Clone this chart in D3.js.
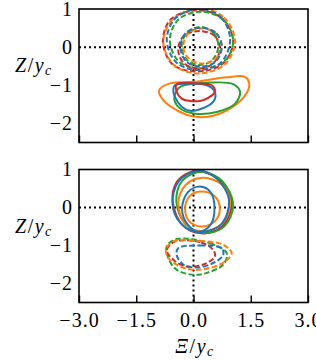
<!DOCTYPE html>
<html>
<head>
<meta charset="utf-8">
<script src="https://cdn.jsdelivr.net/npm/d3@7"></script>
<style>
  body { margin: 0; background: #fff; }
  text { font-family: "Liberation Serif", "DejaVu Serif", serif; }
</style>
</head>
<body>
<svg id="chart" width="316" height="361"></svg>
<script>
// tick values
const xTicks = [-3, -1.5, 0, 1.5, 3];
const yTicks = [1, 0, -1, -2];

// top panel, dashed rings (outer / inner)
const p1RedOut = [[0.1,0.97],[0.75,0.75],[1.04,0.15],[0.78,-0.42],[0.12,-0.64],[-0.55,-0.45],[-0.8,0.15],[-0.6,0.72]];
const p1GreenOut = [[0.2,0.93],[0.8,0.7],[1.04,0.15],[0.8,-0.38],[0.2,-0.56],[-0.38,-0.38],[-0.62,0.18],[-0.4,0.72]];
const p1OrangeOut = [[0.15,1.02],[0.8,0.78],[1.09,0.15],[0.82,-0.45],[0.15,-0.69],[-0.5,-0.48],[-0.79,0.12],[-0.55,0.72]];
const p1BlueOut = [[0.15,1.0],[0.72,0.78],[0.96,0.2],[0.72,-0.4],[0.12,-0.6],[-0.45,-0.4],[-0.7,0.18],[-0.48,0.75]];
const p1RedIn = [[0.15,0.42],[0.55,0.3],[0.69,-0.05],[0.52,-0.42],[0.15,-0.56],[-0.25,-0.42],[-0.4,-0.07],[-0.25,0.3]];
const p1GreenIn = [[0.17,0.53],[0.52,0.38],[0.65,0.02],[0.5,-0.33],[0.17,-0.47],[-0.18,-0.33],[-0.31,0.03],[-0.17,0.38]];
const p1OrangeIn = [[0.22,0.49],[0.6,0.35],[0.74,0.02],[0.58,-0.3],[0.22,-0.43],[-0.12,-0.3],[-0.27,0.02],[-0.13,0.36]];
const p1BlueIn = [[0.2,0.51],[0.6,0.36],[0.74,0.0],[0.58,-0.38],[0.2,-0.51],[-0.2,-0.37],[-0.34,0.0],[-0.2,0.37]];

// top panel, solid lower lobes
const p1OrangeLow = [[-0.62,-0.95],[0,-0.91],[0.87,-0.79],[1.35,-0.78],[1.46,-0.95],[1.39,-1.21],[1.04,-1.56],[0.43,-1.82],[0,-1.82],[-0.35,-1.7],[-0.79,-1.39],[-0.9,-1.13]];
const p1GreenLow = [[-0.35,-1.04],[0.43,-0.93],[1.04,-0.97],[1.22,-1.17],[1.09,-1.48],[0.61,-1.7],[0,-1.74],[-0.35,-1.61],[-0.49,-1.43],[-0.49,-1.26]];
const p1BlueLow = [[-0.49,-1.0],[-0.09,-0.95],[0.35,-1.0],[0.56,-1.17],[0.52,-1.43],[0.17,-1.63],[-0.09,-1.67],[-0.31,-1.56],[-0.49,-1.3],[-0.53,-1.11]];
const p1RedLow = [[-0.44,-0.97],[0.09,-0.95],[0.48,-1.0],[0.56,-1.17],[0.35,-1.35],[0.17,-1.41],[-0.09,-1.41],[-0.31,-1.35],[-0.44,-1.17]];

// bottom panel, solid rings
const p2RedOut = [[0.1,0.96],[0.7,0.72],[1.0,0.1],[0.75,-0.5],[0.2,-0.68],[-0.3,-0.45],[-0.55,0.2],[-0.45,0.65],[-0.2,0.88]];
const p2GreenOut = [[0.2,0.94],[0.75,0.7],[1.04,0.05],[0.8,-0.5],[0.3,-0.68],[-0.2,-0.45],[-0.45,0.15],[-0.3,0.7]];
const p2OrangeOut = [[0.26,0.78],[0.75,0.6],[0.96,0.12],[0.75,-0.42],[0.26,-0.62],[-0.2,-0.45],[-0.4,0.12],[-0.2,0.6]];
const p2BlueOut = [[0.17,0.97],[0.62,0.75],[0.93,0.2],[0.72,-0.45],[0.1,-0.65],[-0.35,-0.4],[-0.55,0.1],[-0.38,0.7]];
const p2OrangeIn = [[0.2,0.42],[0.55,0.3],[0.69,-0.03],[0.55,-0.37],[0.2,-0.5],[-0.12,-0.35],[-0.22,-0.03],[-0.1,0.3]];
const p2BlueIn = [[0.17,0.55],[0.45,0.4],[0.55,0.0],[0.45,-0.45],[0.15,-0.64],[-0.15,-0.45],[-0.3,-0.03],[-0.15,0.4]];

// bottom panel, dashed lower lobes
const p2RedLow = [[-0.5,-0.9],[0.2,-0.92],[0.52,-1.12],[0.56,-1.29],[0.26,-1.5],[-0.18,-1.55],[-0.5,-1.4],[-0.7,-1.13]];
const p2GreenLow = [[-0.44,-0.83],[0.43,-0.94],[0.87,-1.2],[0.78,-1.5],[0.35,-1.72],[0,-1.77],[-0.44,-1.64],[-0.66,-1.33],[-0.7,-1.02]];
const p2OrangeLow = [[-0.53,-0.89],[0.17,-0.88],[0.78,-0.98],[1.0,-1.2],[0.83,-1.42],[0.43,-1.59],[0,-1.64],[-0.35,-1.55],[-0.66,-1.33],[-0.72,-1.1]];
const p2BlueLow = [[-0.4,-1.07],[0.17,-1.0],[0.74,-1.07],[0.78,-1.25],[0.52,-1.46],[0.09,-1.58],[-0.27,-1.5],[-0.44,-1.25]];

const C = { blue: "#1f77b4", orange: "#ff7f0e", green: "#2ca02c", red: "#d62728" };

const panels = [
  { top: 9, bottom: 142.5, curves: [
      [p1RedOut, C.red, true], [p1GreenOut, C.green, true], [p1OrangeOut, C.orange, true], [p1BlueOut, C.blue, true],
      [p1RedIn, C.red, true], [p1GreenIn, C.green, true], [p1OrangeIn, C.orange, true], [p1BlueIn, C.blue, true],
      [p1OrangeLow, C.orange, false], [p1GreenLow, C.green, false], [p1BlueLow, C.blue, false], [p1RedLow, C.red, false]
    ], labels: false },
  { top: 169.5, bottom: 302.5, curves: [
      [p2RedOut, C.red, false], [p2GreenOut, C.green, false], [p2OrangeOut, C.orange, false], [p2BlueOut, C.blue, false],
      [p2OrangeIn, C.orange, false], [p2BlueIn, C.blue, false],
      [p2RedLow, C.red, true], [p2GreenLow, C.green, true], [p2OrangeLow, C.orange, true], [p2BlueLow, C.blue, true]
    ], labels: true }
];

const svg = d3.select("#chart");
const x = d3.scaleLinear().domain([-3, 3]).range([79, 308]);

panels.forEach(function(p, i) {
  const y = d3.scaleLinear().domain([-2.5, 1]).range([p.bottom, p.top]);
  const g = svg.append("g");

  g.append("clipPath").attr("id", "clip" + i)
    .append("rect").attr("x", x(-3)).attr("y", p.top)
    .attr("width", x(3) - x(-3)).attr("height", p.bottom - p.top);

  const plot = g.append("g").attr("clip-path", "url(#clip" + i + ")");

  // zero lines
  plot.append("line").attr("x1", x(-3)).attr("x2", x(3)).attr("y1", y(0)).attr("y2", y(0))
    .attr("stroke", "#000").attr("stroke-width", 2).attr("stroke-dasharray", "2,3");
  plot.append("line").attr("x1", x(0)).attr("x2", x(0)).attr("y1", p.top).attr("y2", p.bottom)
    .attr("stroke", "#000").attr("stroke-width", 2).attr("stroke-dasharray", "2,3");

  const line = d3.line()
    .x(function(d){ return x(d[0]) })
    .y(function(d){ return y(d[1]) })
    .curve(d3.curveCatmullRomClosed.alpha(0.5));

  plot.selectAll("path.c")
    .data(p.curves)
    .enter()
    .append("path")
      .attr("class", "c")
      .attr("d", function(d){ return line(d[0]) })
      .attr("fill", "none")
      .attr("stroke", function(d){ return d[1] })
      .attr("stroke-width", 2)
      .attr("stroke-dasharray", function(d){ return d[2] ? "5.5,2.5" : null });

  // y axis
  const ya = g.append("g").attr("transform", "translate(" + x(-3) + ",0)")
    .call(d3.axisLeft(y).tickValues(yTicks).tickSize(0).tickPadding(6).tickFormat(d3.format("d")));
  ya.select(".domain").remove();
  ya.selectAll("text").attr("font-size", 20).attr("fill", "#000").attr("font-family", "Liberation Serif")
    .attr("letter-spacing", 1);

  // x axis (ticks inward)
  const xa = g.append("g").attr("transform", "translate(0," + p.bottom + ")")
    .call(d3.axisBottom(x).tickValues(xTicks).tickSizeInner(-7).tickSizeOuter(0).tickPadding(10).tickFormat(d3.format(".1f")));
  xa.select(".domain").remove();
  xa.selectAll("line").attr("stroke", "#000").attr("stroke-width", 1.4);
  xa.selectAll("text").attr("font-size", 20).attr("fill", "#000").attr("font-family", "Liberation Serif")
    .attr("letter-spacing", 1);
  if (!p.labels) xa.selectAll("text").remove();

  // frame
  g.append("rect").attr("x", x(-3)).attr("y", p.top)
    .attr("width", x(3) - x(-3)).attr("height", p.bottom - p.top)
    .attr("fill", "none").attr("stroke", "#000").attr("stroke-width", 1.6);

  // y label
  const yl = g.append("text").attr("x", 15).attr("y", p.top + 63).attr("font-size", 20).attr("letter-spacing", 1.5);
  yl.append("tspan").attr("font-style", "italic").text("Z");
  yl.append("tspan").text("/");
  yl.append("tspan").attr("font-style", "italic").text("y");
  yl.append("tspan").attr("font-style", "italic").attr("font-size", 14).attr("dy", 3).text("c");
});

// x label
const xl = svg.append("text").attr("x", 195).attr("y", 353).attr("font-size", 20).attr("text-anchor", "middle").attr("letter-spacing", 1.5);
xl.append("tspan").attr("font-style", "italic").text("Ξ");
xl.append("tspan").text("/");
xl.append("tspan").attr("font-style", "italic").text("y");
xl.append("tspan").attr("font-style", "italic").attr("font-size", 14).attr("dy", 3).text("c");
</script>
</body>
</html>
